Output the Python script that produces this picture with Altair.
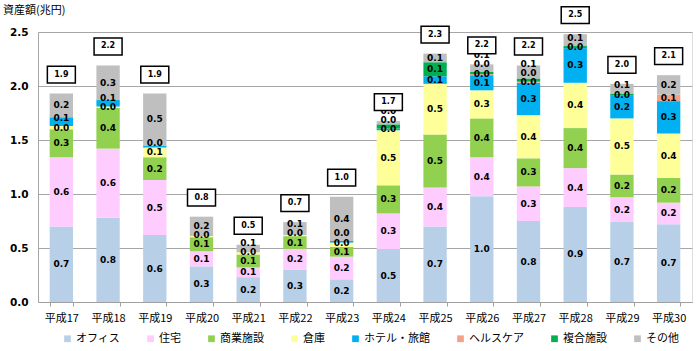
import altair as alt
import pandas as pd

years = ["平成17", "平成18", "平成19", "平成20", "平成21", "平成22", "平成23",
         "平成24", "平成25", "平成26", "平成27", "平成28", "平成29", "平成30"]
series = ["オフィス", "住宅", "商業施設", "倉庫", "ホテル・旅館", "ヘルスケア", "複合施設", "その他"]
colors = ["#B8CFE8", "#FFCCFF", "#92D050", "#FFFF99", "#00B0F0", "#F4A185", "#00B050", "#BFBFBF"]

office      = [0.70, 0.78, 0.62, 0.33, 0.23, 0.30, 0.21, 0.49, 0.70, 0.98, 0.75, 0.88, 0.74, 0.72]
residential = [0.64, 0.64, 0.51, 0.14, 0.09, 0.19, 0.21, 0.33, 0.36, 0.36, 0.32, 0.36, 0.23, 0.20]
commercial  = [0.26, 0.38, 0.21, 0.13, 0.12, 0.12, 0.09, 0.26, 0.49, 0.36, 0.26, 0.37, 0.21, 0.23]
warehouse   = [0.03, 0.01, 0.09, 0.01, 0.02, 0.01, 0.04, 0.51, 0.47, 0.26, 0.40, 0.42, 0.52, 0.41]
hotel       = [0.08, 0.06, 0.02, 0.00, 0.00, 0.00, 0.015, 0.015, 0.07, 0.14, 0.30, 0.32, 0.21, 0.30]
healthcare  = [0.00, 0.00, 0.00, 0.00, 0.00, 0.00, 0.00, 0.00, 0.00, 0.01, 0.01, 0.00, 0.00, 0.06]
complex_    = [0.00, 0.00, 0.00, 0.00, 0.00, 0.00, 0.00, 0.04, 0.13, 0.02, 0.03, 0.02, 0.02, 0.00]
other       = [0.22, 0.32, 0.48, 0.18, 0.07, 0.12, 0.41, 0.03, 0.08, 0.07, 0.12, 0.11, 0.09, 0.18]

values = [office, residential, commercial, warehouse, hotel, healthcare, complex_, other]

rows = []
totals = []
min_gap = 0.085
for i, yr in enumerate(years):
    cum = 0.0
    last = None
    for j, s in enumerate(series):
        v = values[j][i]
        lo, hi = cum, cum + v
        cum = hi
        mid = (lo + hi) / 2
        laby = None
        if v > 0:
            laby = mid if last is None else max(mid, last + min_gap)
            last = laby
        rows.append({"year": yr, "series": s, "order": j, "v": v, "lo": lo, "hi": hi,
                     "laby": laby if laby is not None else 0.0, "show": v > 0})
    totals.append({"year": yr, "total": cum})

df = pd.DataFrame(rows)
tdf = pd.DataFrame(totals)

xenc = alt.X("year:N", sort=years,
             scale=alt.Scale(paddingInner=0.5, paddingOuter=0.25),
             axis=alt.Axis(title=None, labelAngle=0, labelFontSize=11,
                           labelFont="Noto Sans CJK JP", labelColor="#000000",
                           domainColor="#A0A0A0", tickColor="#A0A0A0",
                           tickBand="extent", tickSize=4, labelPadding=6, grid=False))
yscale = alt.Scale(domain=[0, 2.5], nice=False)

bars = alt.Chart(df).mark_bar().encode(
    x=xenc,
    y=alt.Y("lo:Q", scale=yscale,
            axis=alt.Axis(title=None, values=[0, 0.5, 1.0, 1.5, 2.0, 2.5], format=".1f",
                          labelFont="DejaVu Sans", labelFontWeight="bold", labelFontSize=10.5,
                          labelColor="#000000", gridColor="#A6A6A6", domainColor="#A6A6A6",
                          ticks=False, labelPadding=10)),
    y2="hi:Q",
    color=alt.Color("series:N", sort=series,
                    scale=alt.Scale(domain=series, range=colors),
                    legend=alt.Legend(title=None, orient="none", legendX=24, legendY=301,
                                      direction="horizontal", columns=8, symbolType="square",
                                      symbolSize=45, symbolStrokeWidth=0, labelFontSize=11,
                                      labelFont="Noto Sans CJK JP", labelColor="#000000",
                                      columnPadding=25, labelOffset=3, padding=0)),
    order=alt.Order("order:Q"),
)

labels = alt.Chart(df).transform_filter("datum.show").mark_text(
    font="DejaVu Sans", fontWeight="bold", fontSize=9, color="#000000"
).encode(
    x=alt.X("year:N", sort=years),
    y=alt.Y("laby:Q", scale=yscale),
    text=alt.Text("v:Q", format=".1f"),
)

boxes = alt.Chart(tdf).mark_point(
    shape="M-1,-0.6L1,-0.6L1,0.6L-1,0.6Z", size=784, filled=True,
    fill="white", stroke="black", strokeWidth=1.5, opacity=1, yOffset=-19
).encode(
    x=alt.X("year:N", sort=years),
    y=alt.Y("total:Q", scale=yscale),
)

tot_text = alt.Chart(tdf).mark_text(
    font="DejaVu Sans", fontWeight="bold", fontSize=8, color="#000000", dy=-19
).encode(
    x=alt.X("year:N", sort=years),
    y=alt.Y("total:Q", scale=yscale),
    text=alt.Text("total:Q", format=".1f"),
)

chart = alt.layer(bars, labels, boxes, tot_text).properties(
    width=654, height=270,
    autosize=alt.AutoSizeParams(type="none"),
    padding={"left": 38, "top": 32, "right": 8, "bottom": 49},
    title=alt.TitleParams("資産額(兆円)", anchor="start", frame="group", fontSize=11,
                          font="Noto Sans CJK JP", fontWeight="normal", color="#000000",
                          dx=-35, offset=-12),
).configure_view(stroke="#A6A6A6").configure(background="white")

chart.save("out.html", embed_options={"renderer": "svg", "actions": False})
